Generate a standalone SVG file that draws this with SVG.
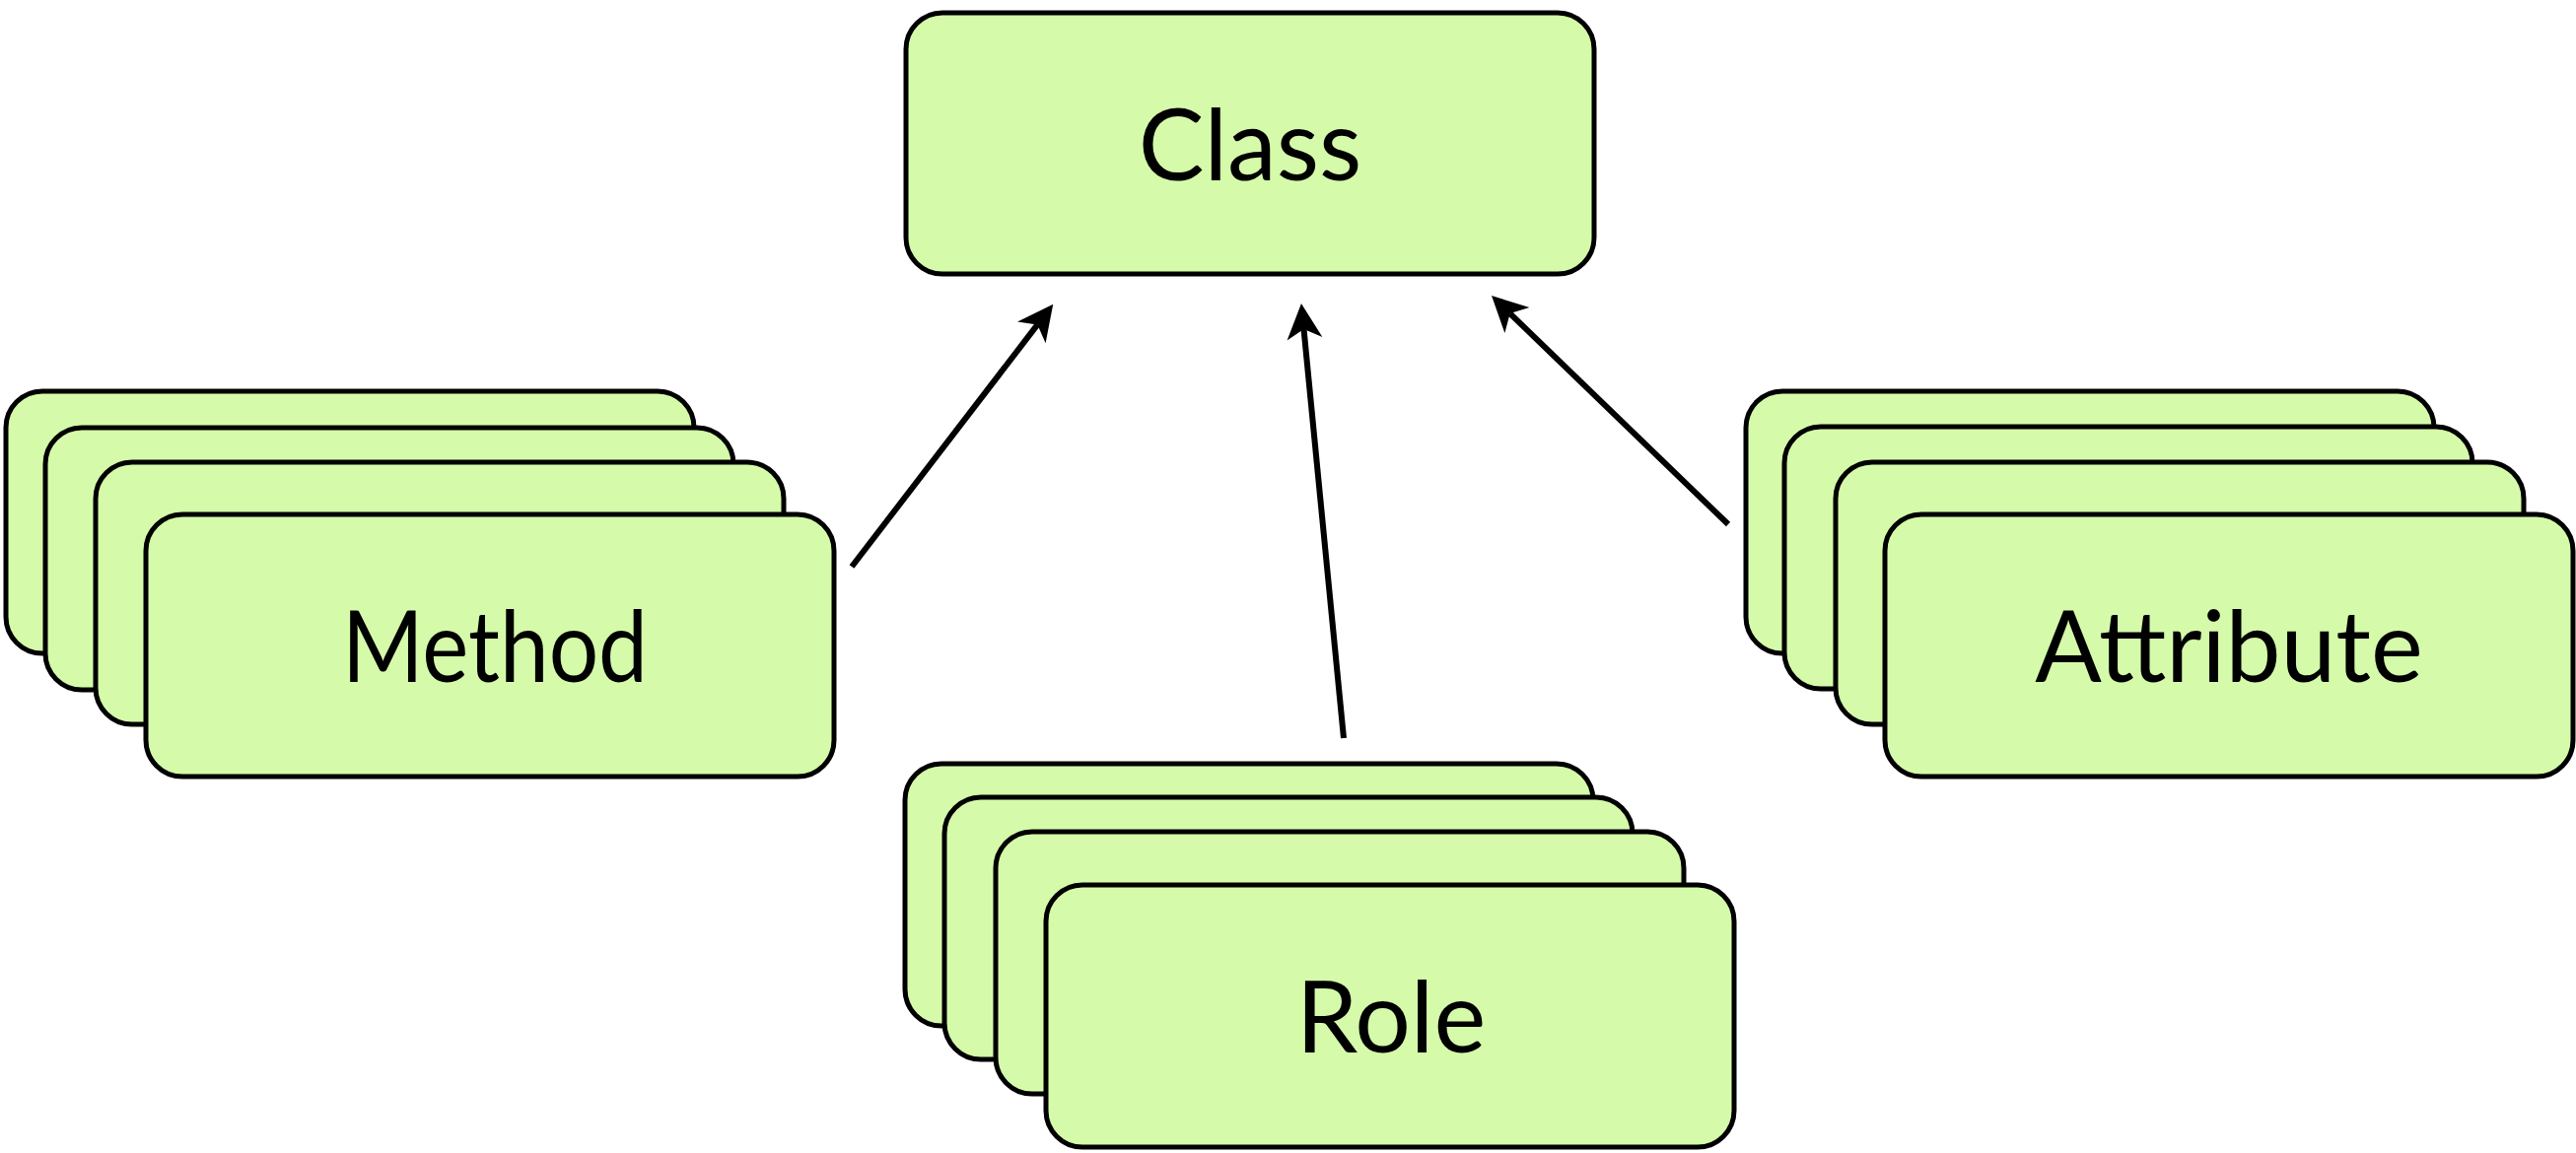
<svg xmlns="http://www.w3.org/2000/svg" width="2613" height="1170" viewBox="0 0 2613 1170">
<style>
.box{fill:#d5fbaa;stroke:#000;stroke-width:5}
.lbl{font-family:Lato,"Liberation Sans",sans-serif;font-size:100px;fill:#000;text-anchor:middle}
.conn{stroke:#000;stroke-width:6;fill:none;marker-end:url(#ah)}
</style>
<defs>
<marker id="ah" markerUnits="userSpaceOnUse" viewBox="0 -19 37 38" markerWidth="37" markerHeight="38" refX="10" refY="0" orient="auto">
<path d="M0,-18 L36,0 L0,18 L10,0 Z" fill="#000"/>
</marker>
</defs>
<rect width="2613" height="1170" fill="#fff"/>
<g id="class">
<rect class="box" x="919" y="13" width="698" height="265" rx="37"/>
<text class="lbl" x="1268" y="183">Class</text>
</g>
<g id="method">
<rect class="box" x="6" y="397" width="698" height="266" rx="37"/>
<rect class="box" x="46" y="434" width="698" height="266" rx="37"/>
<rect class="box" x="97" y="469" width="698" height="266" rx="37"/>
<rect class="box" x="148" y="522" width="698" height="266" rx="37"/>
<text class="lbl" x="502" y="692" textLength="310" lengthAdjust="spacingAndGlyphs">Method</text>
</g>
<g id="role">
<rect class="box" x="918" y="775" width="698" height="266" rx="37"/>
<rect class="box" x="958" y="809" width="698" height="266" rx="37"/>
<rect class="box" x="1010" y="844" width="698" height="266" rx="37"/>
<rect class="box" x="1061" y="898" width="698" height="266" rx="37"/>
<text class="lbl" x="1411" y="1068">Role</text>
</g>
<g id="attribute">
<rect class="box" x="1771" y="397" width="698" height="266" rx="37"/>
<rect class="box" x="1810" y="433" width="698" height="266" rx="37"/>
<rect class="box" x="1862" y="469" width="698" height="266" rx="37"/>
<rect class="box" x="1912" y="522" width="698" height="266" rx="37"/>
<text class="lbl" x="2261" y="692">Attribute</text>
</g>
<g id="connectors">
<line class="conn" x1="864" y1="575" x2="1052.4" y2="329.4"/>
<line class="conn" x1="1363" y1="749" x2="1322.5" y2="333.9"/>
<line class="conn" x1="1753" y1="532" x2="1531.7" y2="318.1"/>
</g>
</svg>
